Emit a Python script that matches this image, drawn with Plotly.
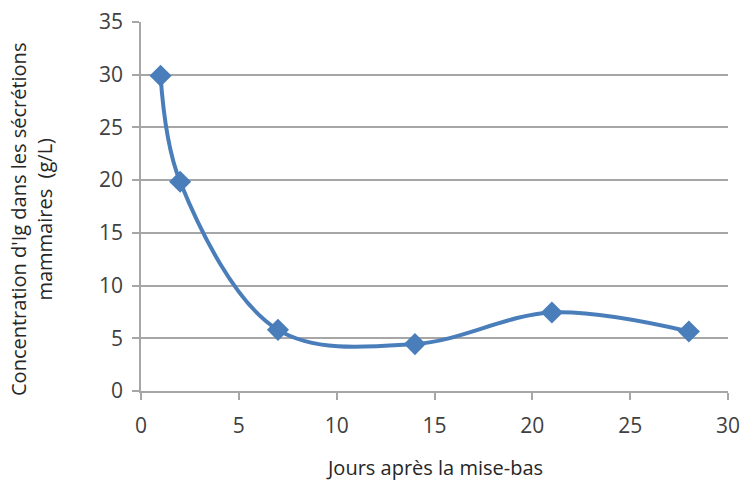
import plotly.graph_objects as go

days = [1, 2, 7, 14, 21, 28]
ig_conc = [29.9, 19.85, 5.8, 4.45, 7.45, 5.65]
x_ticks = [0, 5, 10, 15, 20, 25, 30]
y_ticks = [0, 5, 10, 15, 20, 25, 30, 35]

blue = "#4A7EBB"
grid = "#A6A6A6"
font_family = "Open Sans, Liberation Sans, sans-serif"

L, R, T, B = 141, 15, 22, 92
W, H = 743, 483

fig = go.Figure()
fig.add_trace(go.Scatter(
    x=days, y=ig_conc, mode="lines+markers",
    line=dict(color=blue, width=4, shape="spline", smoothing=1),
    marker=dict(symbol="diamond", size=17, color=blue),
    showlegend=False,
))

plot_w = W - L - R
plot_h = H - T - B

fig.update_layout(
    width=W, height=H,
    margin=dict(l=L, r=R, t=T, b=B, autoexpand=False),
    paper_bgcolor="white", plot_bgcolor="white",
    font=dict(family=font_family, size=20, color="#404040"),
    xaxis=dict(
        range=[0, 30], tickvals=x_ticks, showgrid=False,
        showline=True, linecolor=grid, linewidth=1.5,
        ticks="outside", ticklen=7, tickcolor=grid, tickwidth=1.5,
        tickfont=dict(size=21, color="#404040"), ticklabelstandoff=8,
        zeroline=False, automargin=False,
    ),
    yaxis=dict(
        range=[0, 35], tickvals=y_ticks, showgrid=True, gridcolor=grid, gridwidth=1.5,
        showline=True, linecolor=grid, linewidth=1.5,
        ticks="outside", ticklen=7, tickcolor=grid, tickwidth=1.5,
        tickfont=dict(size=21, color="#404040"), ticklabelstandoff=5,
        zeroline=False, automargin=False,
    ),
    annotations=[
        dict(text="Jours après la mise-bas", xref="paper", yref="paper",
             x=0.5, y=(H - B - 468) / plot_h, yanchor="middle",
             showarrow=False, font=dict(size=20, color="#262626")),
        dict(text="Concentration d'Ig dans les sécrétions<br>mammaires  (g/L)",
             xref="paper", yref="paper", x=(31 - L) / plot_w, xanchor="center",
             y=(H - B - 220) / plot_h, yanchor="middle", showarrow=False, textangle=-90,
             font=dict(size=20, color="#262626")),
    ],
)

fig.write_html("out.html")
